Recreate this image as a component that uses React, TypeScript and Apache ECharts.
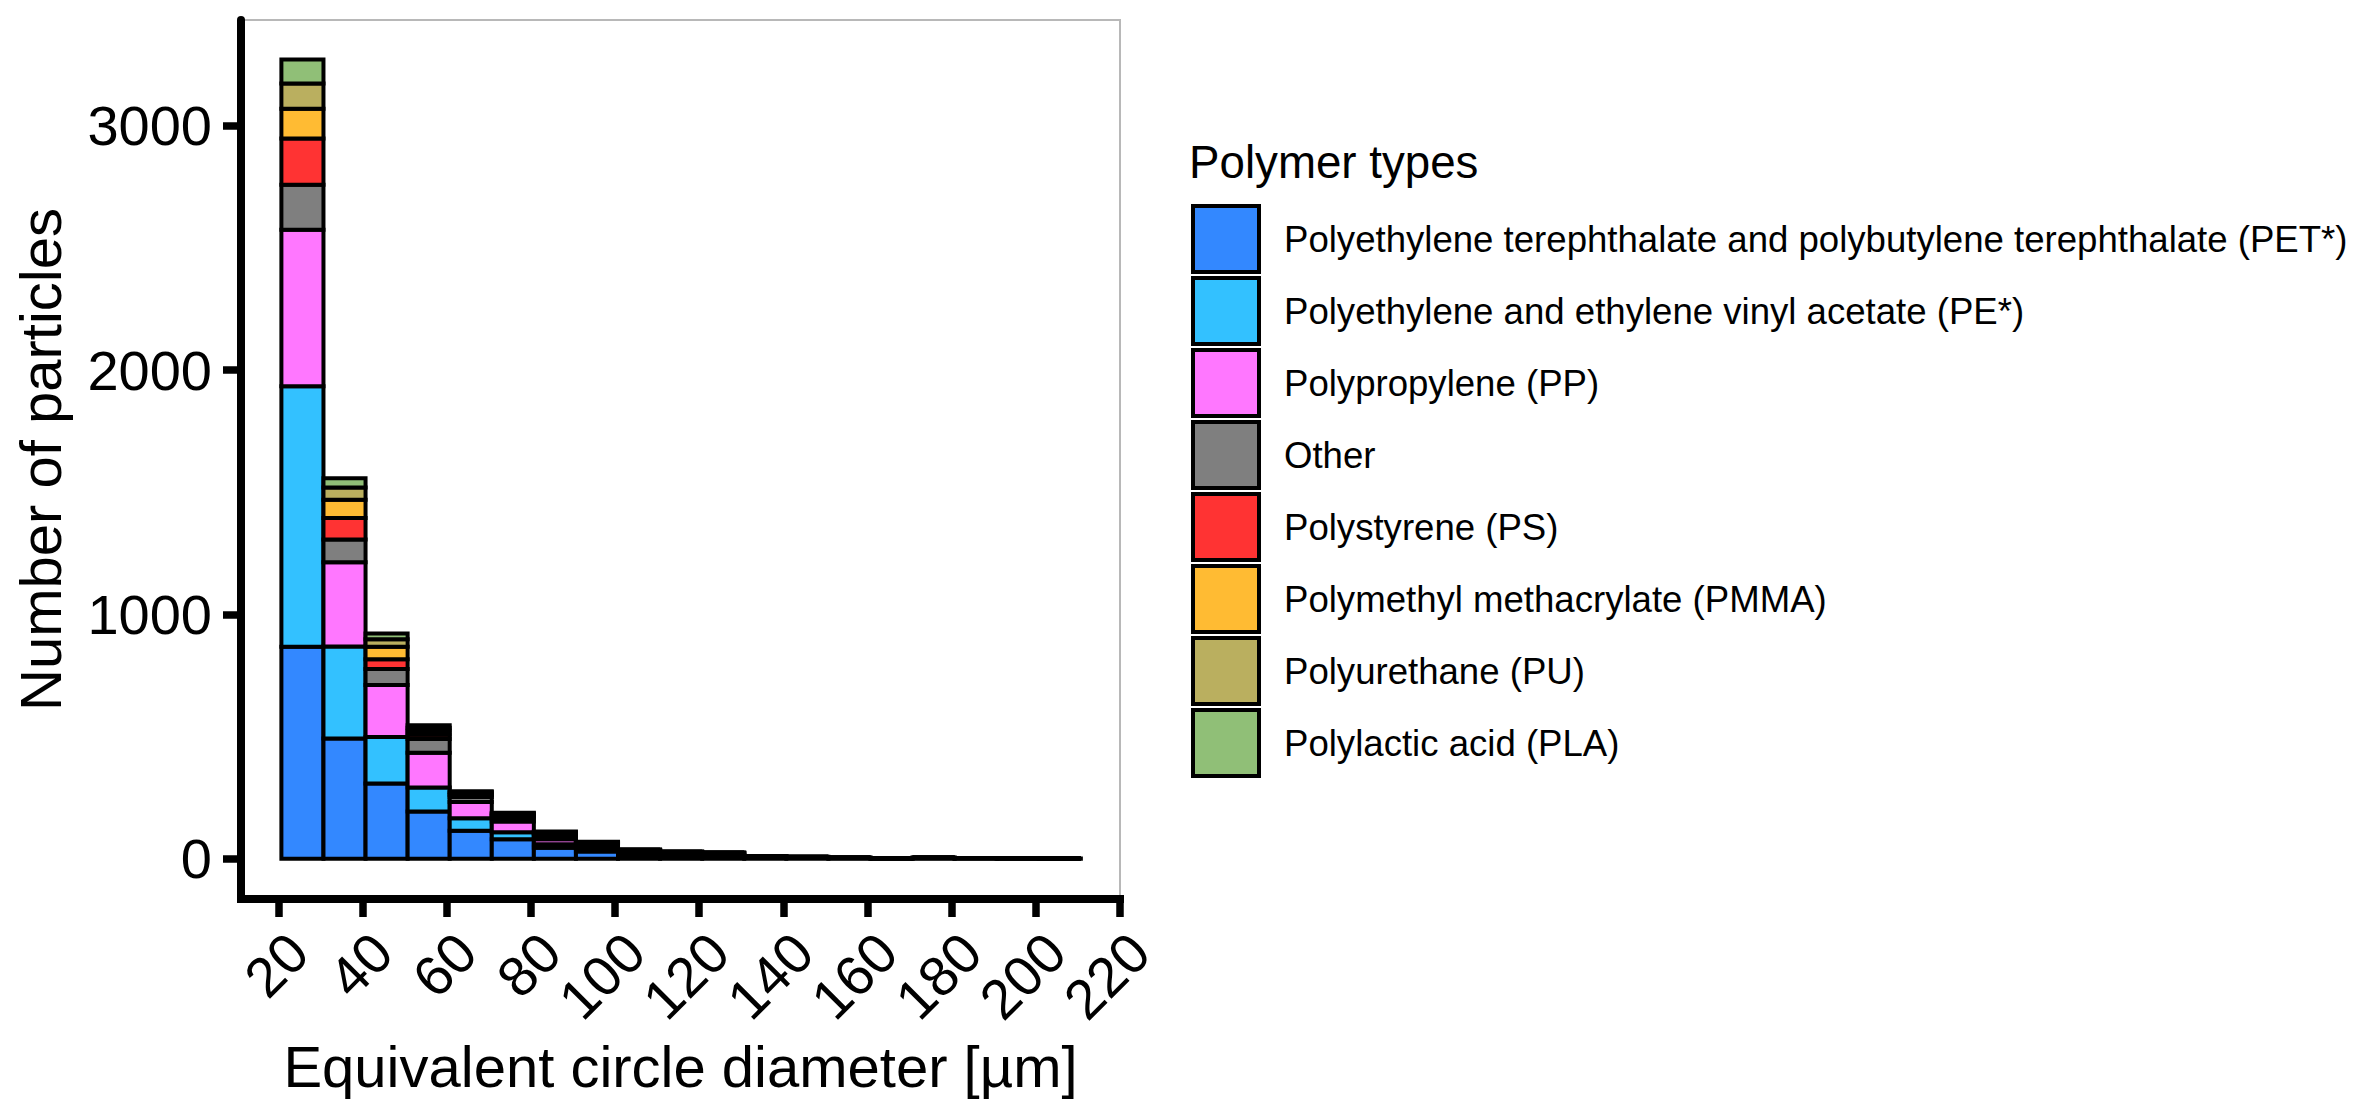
import React, { useEffect, useRef } from "react";
import * as echarts from "echarts";

// ---------- data ----------
const binStarts = [20.7, 30.7, 40.7, 50.7, 60.7, 70.7, 80.7, 90.7, 100.7, 110.7, 120.7, 130.7, 140.7, 150.7, 160.7, 170.7, 180.7, 190.7, 200.7];
const binWidth = 10;

const polymerTypes = [
  "Polyethylene terephthalate and polybutylene terephthalate (PET*)",
  "Polyethylene and ethylene vinyl acetate (PE*)",
  "Polypropylene (PP)",
  "Other",
  "Polystyrene (PS)",
  "Polymethyl methacrylate (PMMA)",
  "Polyurethane (PU)",
  "Polylactic acid (PLA)",
];
const typeColors = ["#3388ff", "#33c1ff", "#ff77ff", "#7f7f7f", "#ff3333", "#ffbb33", "#baaf5f", "#90bf77"];

const petCounts = [868, 492, 308, 194, 115, 80, 45, 30, 16, 13, 11, 5, 3, 2, 1, 2, 1, 1, 1];
const peCounts = [1066, 377, 191, 98, 51, 29, 15, 12, 8, 6, 5, 2, 2, 1, 1, 1, 1, 1, 0];
const ppCounts = [641, 345, 212, 142, 67, 44, 20, 12, 6, 5, 5, 2, 2, 1, 0, 1, 1, 0, 0];
const otherCounts = [184, 93, 66, 56, 20, 15, 14, 8, 4, 3, 3, 1, 1, 1, 0, 1, 0, 0, 0];
const psCounts = [189, 88, 40, 18, 8, 7, 7, 4, 2, 1, 1, 1, 0, 0, 0, 0, 0, 0, 0];
const pmmaCounts = [122, 75, 51, 16, 7, 6, 5, 2, 1, 1, 1, 0, 0, 0, 0, 0, 0, 0, 0];
const puCounts = [103, 50, 31, 12, 5, 4, 3, 1, 1, 1, 0, 0, 0, 0, 0, 0, 0, 0, 0];
const plaCounts = [98, 38, 23, 11, 4, 3, 3, 1, 0, 0, 0, 0, 0, 0, 0, 0, 0, 0, 0];

const xTickValues = [20, 40, 60, 80, 100, 120, 140, 160, 180, 200, 220];
const yTickValues = [0, 1000, 2000, 3000];

const xAxisTitle = "Equivalent circle diameter [µm]";
const yAxisTitle = "Number of particles";
const legendTitle = "Polymer types";

const FONT = "'Liberation Sans', Arial, Helvetica, sans-serif";

export default function App() {
  const ref = useRef<HTMLDivElement>(null);

  useEffect(() => {
    document.body.style.margin = "0";
    if (!ref.current) return;
    const chart = echarts.init(ref.current, undefined, { renderer: "svg" });

    const allCounts = [petCounts, peCounts, ppCounts, otherCounts, psCounts, pmmaCounts, puCounts, plaCounts];
    const cumulative = binStarts.map(() => 0);
    const series = allCounts.map((counts, t) => {
      const data = counts.map((v, i) => {
        const y0 = cumulative[i];
        const y1 = y0 + v;
        cumulative[i] = y1;
        return [binStarts[i], binStarts[i] + binWidth, y0, y1];
      });
      const color = typeColors[t];
      return {
        type: "custom",
        name: polymerTypes[t],
        itemStyle: { color, borderColor: "#000", borderWidth: 4 },
        encode: { x: [0, 1], y: [2, 3] },
        data,
        renderItem: (params: any, api: any) => {
          const p0 = api.coord([api.value(0), api.value(3)]);
          const p1 = api.coord([api.value(1), api.value(2)]);
          return {
            type: "rect",
            shape: { x: p0[0], y: p0[1], width: p1[0] - p0[0], height: p1[1] - p0[1] },
            style: { fill: color, stroke: "#000", lineWidth: 4 },
          };
        },
      };
    });

    chart.setOption({
      animation: false,
      backgroundColor: "#ffffff",
      grid: {
        left: 241,
        top: 20,
        width: 879,
        height: 879,
        show: true,
        backgroundColor: "#ffffff",
        borderColor: "#b8b8b8",
        borderWidth: 2,
      },
      xAxis: {
        type: "value",
        min: 11.1,
        max: 220,
        splitLine: { show: false },
        axisLine: { show: true, onZero: false, lineStyle: { color: "#000", width: 8, cap: "square" } },
        axisTick: { show: true, length: 18, lineStyle: { color: "#000", width: 7.5 }, customValues: xTickValues },
        axisLabel: {
          customValues: xTickValues,
          rotate: 45,
          align: "right",
          verticalAlign: "top",
          margin: 24,
          fontSize: 56,
          fontFamily: FONT,
          color: "#000",
          formatter: (v: number) => String(v),
        },
      },
      yAxis: {
        type: "value",
        min: -164.5,
        max: 3433,
        splitLine: { show: false },
        axisLine: { show: true, onZero: false, lineStyle: { color: "#000", width: 8 } },
        axisTick: { show: true, length: 18, lineStyle: { color: "#000", width: 7.5 }, customValues: yTickValues },
        axisLabel: {
          customValues: yTickValues,
          margin: 29,
          fontSize: 56,
          fontFamily: FONT,
          color: "#000",
          formatter: (v: number) => String(v),
        },
      },
      legend: {
        orient: "vertical",
        left: 1191,
        top: 204,
        padding: 0,
        itemWidth: 66,
        itemHeight: 66,
        itemGap: 2,
        icon: "rect",
        selectedMode: false,
        itemStyle: { borderColor: "#000", borderWidth: 4 },
        textStyle: { fontSize: 36.6, fontFamily: FONT, color: "#000", padding: [0, 0, 0, 20] },
        data: polymerTypes,
      },
      graphic: [
        {
          type: "text",
          x: 40,
          y: 459.5,
          rotation: Math.PI / 2,
          style: { text: yAxisTitle, fontSize: 58, fontFamily: FONT, fill: "#000", align: "center", verticalAlign: "middle" },
        },
        {
          type: "text",
          x: 680.5,
          y: 1066,
          style: { text: xAxisTitle, fontSize: 58, fontFamily: FONT, fill: "#000", align: "center", verticalAlign: "middle" },
        },
        {
          type: "text",
          x: 1189,
          y: 162,
          style: { text: legendTitle, fontSize: 45.7, fontFamily: FONT, fill: "#000", align: "left", verticalAlign: "middle" },
        },
      ],
      series,
    });

    return () => chart.dispose();
  }, []);

  return <div ref={ref} style={{ width: 2369, height: 1119 }} />;
}
